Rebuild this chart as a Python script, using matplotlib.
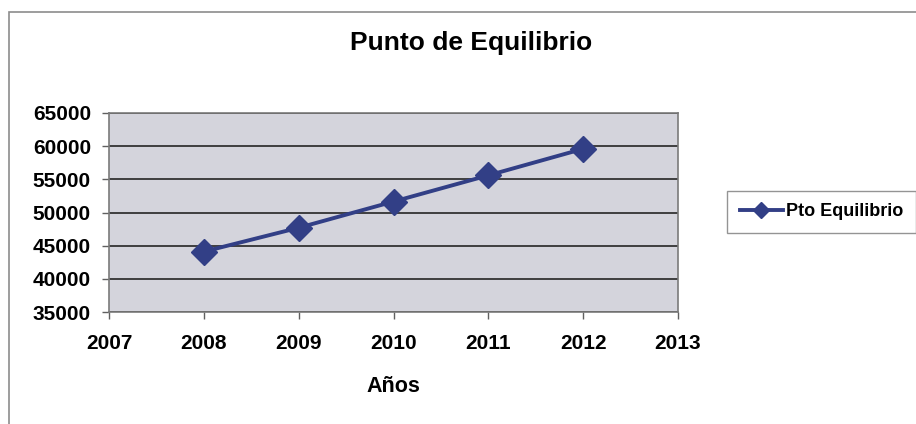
import matplotlib.pyplot as plt
from matplotlib.patches import Rectangle

years = [2008, 2009, 2010, 2011, 2012]
pto_equilibrio = [44100, 47700, 51650, 55600, 59600]
x_ticks = [2007, 2008, 2009, 2010, 2011, 2012, 2013]
y_ticks = [35000, 40000, 45000, 50000, 55000, 60000, 65000]

plt.rcParams['font.family'] = ['Liberation Sans', 'DejaVu Sans']
plt.rcParams['font.weight'] = 'bold'

fig = plt.figure(figsize=(9.16, 4.24), dpi=100)
ax = fig.add_axes([109 / 916, 1 - 312 / 424, 569 / 916, 199 / 424])

# chart area border
fig.patches.append(Rectangle((9 / 916, -0.01), 1.0, 1 - 12 / 424 + 0.01,
                             transform=fig.transFigure, fill=False,
                             edgecolor='#8c8c8c', linewidth=1.2))

ax.set_facecolor('#d4d4dc')
line, = ax.plot(years, pto_equilibrio, color='#323f86', linewidth=2.8,
                marker='D', markersize=13, label='Pto Equilibrio', zorder=3)

ax.set_xlim(2007, 2013)
ax.set_ylim(35000, 65000)
ax.set_xticks(x_ticks)
ax.set_yticks(y_ticks)
ax.tick_params(axis='both', labelsize=15, length=5, color='#606060', width=1)
ax.tick_params(axis='x', pad=11)
ax.tick_params(axis='y', pad=8)
for lbl in ax.get_xticklabels() + ax.get_yticklabels():
    lbl.set_fontweight('bold')

ax.grid(axis='y', color='#333333', linewidth=1.3)
ax.set_axisbelow(True)
for s in ax.spines.values():
    s.set_color('#7a7a7a')
    s.set_linewidth(1.2)

fig.text(471 / 916, 1 - 43 / 424, 'Punto de Equilibrio', ha='center', va='center',
         fontsize=19, fontweight='bold')
fig.text(393 / 916, 1 - 387 / 424, 'Años', ha='center', va='center',
         fontsize=15.5, fontweight='bold')

leg = fig.legend(handles=[line], loc='center left',
                 bbox_to_anchor=(727 / 916, 1 - 212 / 424),
                 fontsize=13, frameon=True, fancybox=False, markerscale=0.6,
                 handlelength=2.4, handletextpad=0.15, borderpad=0.7,
                 borderaxespad=0)
leg.get_frame().set_edgecolor('#7a7a7a')
leg.get_frame().set_linewidth(1.0)
for t in leg.get_texts():
    t.set_fontweight('bold')

fig.savefig('out.png', dpi=100)
